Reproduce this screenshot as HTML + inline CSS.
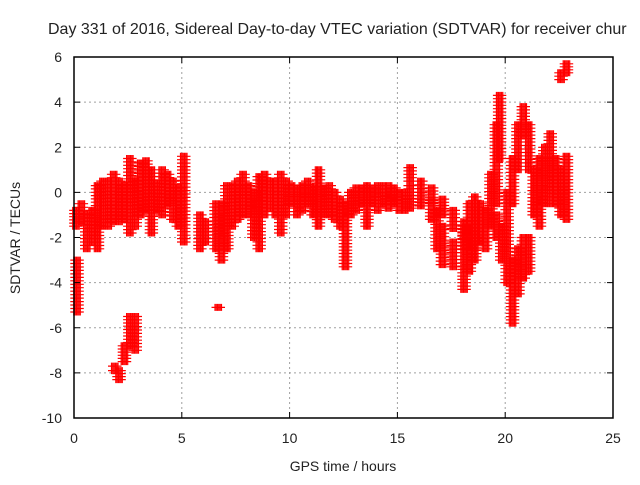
<!DOCTYPE html>
<html><head><meta charset="utf-8"><style>
body{margin:0;background:#fff}
svg text{font-family:"Liberation Sans",sans-serif;font-size:14px;fill:#222}
</style></head><body>
<svg width="640" height="480" xmlns="http://www.w3.org/2000/svg">
<rect width="640" height="480" fill="#fff"/>
<g id="grid"></g>
<g id="marks"></g>
<rect x="74" y="57" width="539" height="361" fill="none" stroke="#000" stroke-width="1.5"/>
<g id="ticks"></g>
<text x="48" y="34" style="font-size:16px">Day 331 of 2016, Sidereal Day-to-day VTEC variation (SDTVAR) for receiver chur</text>
<text x="343" y="471" text-anchor="middle">GPS time / hours</text>
<text transform="translate(20,238) rotate(-90)" text-anchor="middle">SDTVAR / TECUs</text>
</svg>
<script>
const xTicks=[0,5,10,15,20,25];
const yTicks=[-10,-8,-6,-4,-2,0,2,4,6];
// envelope samples: time, low value, high value
const times=[0,0.05,0.25,0.5,0.75,1,1.25,1.5,1.75,2,2.25,2.5,2.75,3,3.25,3.5,3.75,4,4.25,4.5,4.75,5,5.75,6,6.5,6.75,7,7.25,7.5,7.75,8,8.25,8.5,8.75,9,9.25,9.5,9.75,10,10.25,10.5,10.75,11,11.25,11.5,11.75,12,12.25,12.5,12.75,13,13.25,13.5,13.75,14,14.25,14.5,14.75,15,15.25,15.5,
15.5,16,16.5,17,17.5,18,18.5,
16,16.5,16.75,17,17.5,18,18.25,18.5,18.75,19,19.25,19.5,19.65,
19.5,19.75,20,20.25,20.5,20.75,21,
20,20.25,20.5,20.75,21,21.25,21.5,21.75,22,22.25,22.5,22.75,
22.5,22.75,
1.8,2,2.25,2.5,2.75,6.6];
const lows=[-1.5,-5.3,-1.3,-2.5,-2.2,-2.5,-1.5,-1.5,-1.3,-1.3,-1.2,-1.8,-1.5,-1,-0.8,-1.8,-0.8,-1,-0.5,-1.2,-1.5,-2.2,-2.5,-2.2,-2.5,-3,-2.5,-1.5,-1.2,-1,-1,-2,-2.5,-1,-0.7,-1,-1.8,-1,-0.5,-1,-0.8,-0.5,-1,-1.5,-1,-1,-1.2,-1.5,-3.3,-1,-0.8,-0.5,-1.5,-0.5,-0.8,-0.5,-0.7,-0.5,-0.8,-0.8,-0.7,
0.5,0,-0.5,-1,-1.6,-2.5,-3,
-0.6,-1.2,-2.5,-3.2,-3.3,-4.3,-3.5,-2.5,-2.2,-2.5,-1.5,-0.5,1.5,
-2,-3,-4,-5.8,-4.5,-3.8,-3.5,
-2,-0.5,1,2.5,1,-1,-1.5,-0.5,-0.5,-0.5,-1,-1.2,
5,5.3,
-7.9,-8.3,-7.5,-6.8,-7,-5.1];
const highs=[-0.8,-3,-0.5,-1,-0.8,0.3,0.5,0.5,0.8,0.5,0.3,1.5,0.5,1.3,1.4,1,0.4,1,0.8,0.5,0.2,1.6,-1,-1.3,-0.5,-0.5,0.3,0.3,0.5,0.8,0.3,0,0.7,0.8,0.5,0.5,0.8,0.5,0.3,0.2,0.3,0.5,0.2,1,0.2,0.3,0,-0.3,-0.5,0,0.2,0.2,0.3,0.2,0.3,0.3,0.3,0.2,0,0,0.3,
1.1,0.5,0.2,-0.3,-0.8,-1.3,-2,
0,-0.3,-0.8,-1.5,-2.2,-1.5,-0.5,-0.2,-0.5,-0.8,0.8,3,4.3,
-1,-1.5,-2,-3,-2.5,-2,-2,
0,1.5,3,3.8,3,1,1.5,2,2.6,1.5,1,1.6,
5.3,5.7,
-7.7,-7.9,-6.8,-5.5,-5.5,-5.1];
const X=t=>74+t*539/25, Y=v=>418-(v+10)*361/16;
const NS="http://www.w3.org/2000/svg";
const grid=document.getElementById('grid'),ticks=document.getElementById('ticks'),marks=document.getElementById('marks');
function mk(tag,a,p){const e=document.createElementNS(NS,tag);for(const k in a)e.setAttribute(k,a[k]);p.appendChild(e);return e;}
xTicks.forEach(t=>{
 if(t>0&&t<25){const g=mk('line',{x1:X(t),x2:X(t),y1:57,y2:418,stroke:'#a0a0a0','stroke-dasharray':'2,3'},grid);
 
 }
 const tk=mk('path',{d:`M${X(t)} 418v-6M${X(t)} 57v6`,stroke:'#000'},ticks);
 
 
 const l=mk('text',{x:X(t),y:443,'text-anchor':'middle'},ticks);l.textContent=t;
 
 
});
yTicks.forEach(v=>{
 if(v>-10&&v<6){const g=mk('line',{x1:74,x2:613,y1:Y(v),y2:Y(v),stroke:'#a0a0a0','stroke-dasharray':'2,3'},grid);
 
 }
 const tk=mk('path',{d:`M74 ${Y(v)}h6M613 ${Y(v)}h-6`,stroke:'#000'},ticks);
 
 
 const l=mk('text',{x:62,y:Y(v)+5,'text-anchor':'end'},ticks);l.textContent=v;
 
 
});
let d='';
times.forEach((t,i)=>{
 const lo=lows[i],hi=highs[i];
 const n=Math.max(1,Math.round((hi-lo)/0.15));
 for(const dt of [-0.06,0,0.06,0.12,0.18,0.24]){
  for(let k=0;k<=n;k++){
   const v=lo+(hi-lo)*k/n;
   const x=X(t+dt),y=Y(v);
   d+=`M${(x-3.5).toFixed(1)} ${y.toFixed(1)}h7M${x.toFixed(1)} ${(y-3.5).toFixed(1)}v7`;
  }
 }
});
const p=mk('path',{d:d,stroke:'#ff0000','stroke-width':1.2,fill:'none'},marks);


</script>
</body></html>
